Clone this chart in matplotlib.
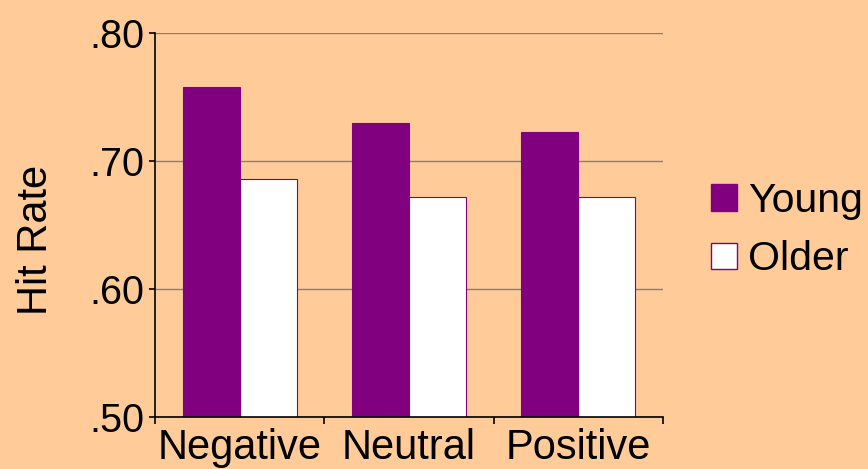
import matplotlib
matplotlib.use("Agg")
import matplotlib.pyplot as plt
from matplotlib.patches import Patch

categories = ["Negative", "Neutral", "Positive"]
young = [0.758, 0.7295, 0.7225]
older = [0.686, 0.6715, 0.672]
yticks = [0.50, 0.60, 0.70, 0.80]
ytick_labels = [".50", ".60", ".70", ".80"]

bg = "#FFCC99"
purple = "#800080"
plt.rcParams['font.family'] = ['Liberation Sans', 'DejaVu Sans']

fig = plt.figure(figsize=(8.68, 4.69), dpi=100, facecolor=bg)
ax = fig.add_axes([155/868, 52/469, 508/868, 384/469])
ax.set_facecolor(bg)

x = list(range(len(categories)))
w = 0.337
ax.bar([i - w/2 for i in x], young, width=w, bottom=0, color=purple, edgecolor=purple, linewidth=0.8, zorder=3)
ax.bar([i + w/2 for i in x], older, width=w, bottom=0, color="white", edgecolor=purple, linewidth=0.8, zorder=3)

ax.set_ylim(0.50, 0.80)
ax.set_xlim(-0.5, 2.5)
ax.set_yticks(yticks)
ax.set_yticklabels(ytick_labels, fontsize=28.5)
ax.yaxis.grid(True, color="#808080", linewidth=1.0, zorder=0)
ax.tick_params(axis='y', length=4, width=1.2, pad=4, color='black')

ax.set_xticks([-0.5, 0.5, 1.5, 2.5])
ax.set_xticklabels([])
ax.tick_params(axis='x', which='major', length=5, width=1.2, color='black')
ax.set_xticks(x, minor=True)
ax.set_xticklabels(categories, minor=True, fontsize=30)
ax.tick_params(axis='x', which='minor', length=0, pad=8)

for s in ["top", "right"]:
    ax.spines[s].set_visible(False)
for s in ["left", "bottom"]:
    ax.spines[s].set_linewidth(1.2)
    ax.spines[s].set_zorder(4)

fig.text(36/868, 1 - 240/469, "Hit Rate", rotation=90, fontsize=30, ha="center", va="center")

handles = [Patch(facecolor=purple, edgecolor=purple), Patch(facecolor="white", edgecolor=purple)]
fig.legend(handles, ["Young", "Older"], loc="center left", bbox_to_anchor=(695/868, 1 - 230/469),
           frameon=False, fontsize=29.5, handlelength=0.62, handleheight=0.62, handletextpad=0.27,
           labelspacing=0.5, borderaxespad=0)

fig.savefig("out.png", dpi=100, facecolor=bg)
